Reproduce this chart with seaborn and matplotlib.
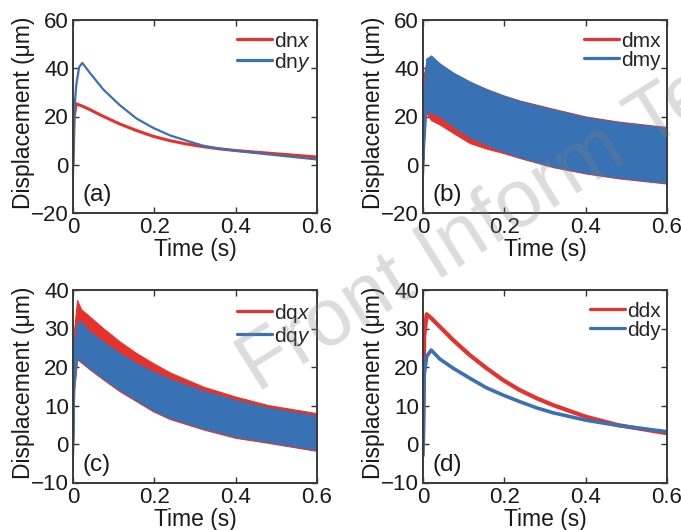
import matplotlib
matplotlib.use("Agg")
import matplotlib.pyplot as plt
from matplotlib.lines import Line2D
import pandas as pd
import seaborn as sns

# ---------------- data ----------------
# (a) smooth response, x / y directions
t_a = [0, 0.003, 0.008, 0.015, 0.023, 0.041, 0.074, 0.115, 0.156, 0.197,
       0.238, 0.279, 0.32, 0.36, 0.40, 0.48, 0.60]
dnx = [0, 20.0, 25.3, 24.8, 24.3, 22.9, 20.1, 16.9, 14.2, 11.8,
       10.0, 8.6, 7.5, 6.6, 5.9, 4.8, 3.2]
dny = [-4, 22.0, 33.0, 40.5, 42.2, 38.2, 31.3, 24.7, 19.2, 15.3,
       12.2, 10.0, 7.9, 6.7, 5.8, 4.3, 2.2]

# (b) oscillating response: upper / lower envelopes
t_b = [0, 0.002, 0.008, 0.02, 0.041, 0.074, 0.115, 0.156, 0.197, 0.238,
       0.32, 0.40, 0.48, 0.60]
dmx_hi = [0, 37.5, 42.0, 44.5, 41.7, 38.0, 34.3, 31.4, 28.8, 26.6, 23.2, 20.0, 17.9, 15.6]
dmx_lo = [0, 30.0, 21.5, 18.5, 16.7, 13.2, 9.0, 6.7, 4.9, 2.8, -1.0, -3.6, -5.6, -7.8]
dmy_hi = [-4, 30.0, 44.0, 45.3, 42.0, 38.2, 34.5, 31.3, 28.6, 26.4, 22.9, 19.7, 17.6, 15.3]
dmy_lo = [-4, 5.0, 22.5, 21.5, 20.1, 16.0, 11.4, 8.3, 5.6, 3.2, -0.7, -3.3, -5.3, -7.5]

# (c) oscillating response: upper / lower envelopes
t_c = [0, 0.003, 0.010, 0.02, 0.041, 0.074, 0.115, 0.156, 0.197, 0.238,
       0.32, 0.40, 0.48, 0.60]
dqx_hi = [0, 30.0, 37.4, 35.0, 33.1, 30.1, 26.6, 23.6, 21.0, 18.6, 14.9, 12.3, 10.1, 8.0]
dqx_lo = [0, 14.0, 22.0, 21.2, 19.4, 16.8, 13.7, 11.1, 8.5, 6.5, 3.8, 1.6, 0.3, -1.8]
dqy_hi = [-3, 27.0, 31.5, 31.8, 29.2, 26.6, 23.6, 21.0, 18.8, 16.9, 13.8, 11.4, 9.4, 7.3]
dqy_lo = [-3, 15.0, 22.4, 21.5, 19.7, 17.1, 14.0, 11.4, 8.8, 6.8, 4.1, 1.9, 0.6, -1.5]

# (d) smooth response
t_d = [0, 0.003, 0.009, 0.02, 0.041, 0.074, 0.115, 0.156, 0.197, 0.238,
       0.279, 0.32, 0.40, 0.48, 0.60]
ddx = [0, 28.0, 33.7, 32.7, 30.5, 27.0, 23.1, 19.7, 16.6, 14.0, 11.9, 10.1, 7.1, 4.9, 2.8]
ddy = [-3, 18.0, 22.7, 24.4, 22.1, 19.7, 17.1, 14.6, 12.7, 11.0, 9.4, 8.1, 6.2, 4.8, 3.2]

x_ticks = [0, 0.2, 0.4, 0.6]
x_ticklabels = ["0", "0.2", "0.4", "0.6"]
y_ticks_top = [-20, 0, 20, 40, 60]
y_ticks_bottom = [-10, 0, 10, 20, 30, 40]

RED = "#e6322b"
BLUE = "#3872b4"
INK = "#1a1a1a"

# ---------------- style ----------------
sns.set_theme(style="ticks")
plt.rcParams["font.family"] = ["Liberation Sans", "DejaVu Sans"]
plt.rcParams["mathtext.fontset"] = "custom"
plt.rcParams["mathtext.it"] = "Liberation Sans:italic"
plt.rcParams["mathtext.rm"] = "Liberation Sans"
plt.rcParams["axes.unicode_minus"] = True

fig = plt.figure(figsize=(6.81, 5.30), dpi=100)
W, H = 681, 530


def add_axes(left, top, width, height):
    return fig.add_axes([left / W, 1 - (top + height) / H, width / W, height / H])


ax_a = add_axes(73, 20, 244, 193)
ax_b = add_axes(423, 20, 244, 193)
ax_c = add_axes(73, 290, 244, 192.5)
ax_d = add_axes(423, 290, 244, 192.5)


def band(ax, t, hi, lo, color):
    """Draw an oscillation envelope as a min-max band through seaborn."""
    df = pd.DataFrame({"t": list(t) * 2, "v": list(hi) + list(lo)})
    sns.lineplot(data=df, x="t", y="v", ax=ax, color=color, linewidth=0,
                 estimator="mean", errorbar=("pi", 100),
                 err_kws=dict(alpha=1.0, edgecolor=color, linewidth=0.8))


def style(ax, yticks, labels, tag):
    ax.set_xlim(0, 0.6)
    ax.set_ylim(yticks[0], yticks[-1])
    ax.set_xticks(x_ticks)
    ax.set_xticklabels(x_ticklabels)
    ax.set_yticks(yticks)
    ax.tick_params(direction="in", top=True, right=True, length=4, width=1.0,
                   labelsize=16, pad=3, colors=INK, color="#333333")
    for sp in ax.spines.values():
        sp.set_visible(True)
        sp.set_linewidth(1.4)
        sp.set_color("#3a3a3a")
    ax.set_xlabel("Time (s)", fontsize=16.5, color=INK, labelpad=0)
    ax.set_ylabel("Displacement (μm)", fontsize=16.5, color=INK)
    ax.yaxis.set_label_coords(-0.155, 0.52)
    handles = [Line2D([], [], color=RED, lw=2.3), Line2D([], [], color=BLUE, lw=2.3)]
    ax.legend(handles, labels, loc="upper right", bbox_to_anchor=(0.975, 0.94),
              frameon=False, fontsize=15, handlelength=1.7, handletextpad=0.1,
              labelspacing=0.0, borderpad=0, borderaxespad=0)
    ax.text(0.04, 0.06, tag, transform=ax.transAxes, fontsize=17.5,
            ha="left", va="baseline", color=INK)


# (a)
sns.lineplot(x=t_a, y=dnx, ax=ax_a, color=RED, linewidth=2.2, errorbar=None)
sns.lineplot(x=t_a, y=dny, ax=ax_a, color=BLUE, linewidth=1.6, errorbar=None)
style(ax_a, y_ticks_top, ["dn$x$", "dn$y$"], "(a)")

# (b)
band(ax_b, t_b, dmx_hi, dmx_lo, RED)
band(ax_b, t_b, dmy_hi, dmy_lo, BLUE)
style(ax_b, y_ticks_top, ["dmx", "dmy"], "(b)")

# (c)
band(ax_c, t_c, dqx_hi, dqx_lo, RED)
band(ax_c, t_c, dqy_hi, dqy_lo, BLUE)
style(ax_c, y_ticks_bottom, ["dq$x$", "dq$y$"], "(c)")

# (d)
sns.lineplot(x=t_d, y=ddx, ax=ax_d, color=RED, linewidth=3.0, errorbar=None)
sns.lineplot(x=t_d, y=ddy, ax=ax_d, color=BLUE, linewidth=2.6, errorbar=None)
style(ax_d, y_ticks_bottom, ["ddx", "ddy"], "(d)")

# publisher watermark across the panels
fig.text(257 / W, 1 - 393 / H, "Front Inform Te",
         rotation=32, rotation_mode="anchor", ha="left", va="baseline",
         fontsize=58, color="0.5", alpha=0.28, zorder=20)

fig.savefig("out.png", dpi=100)
